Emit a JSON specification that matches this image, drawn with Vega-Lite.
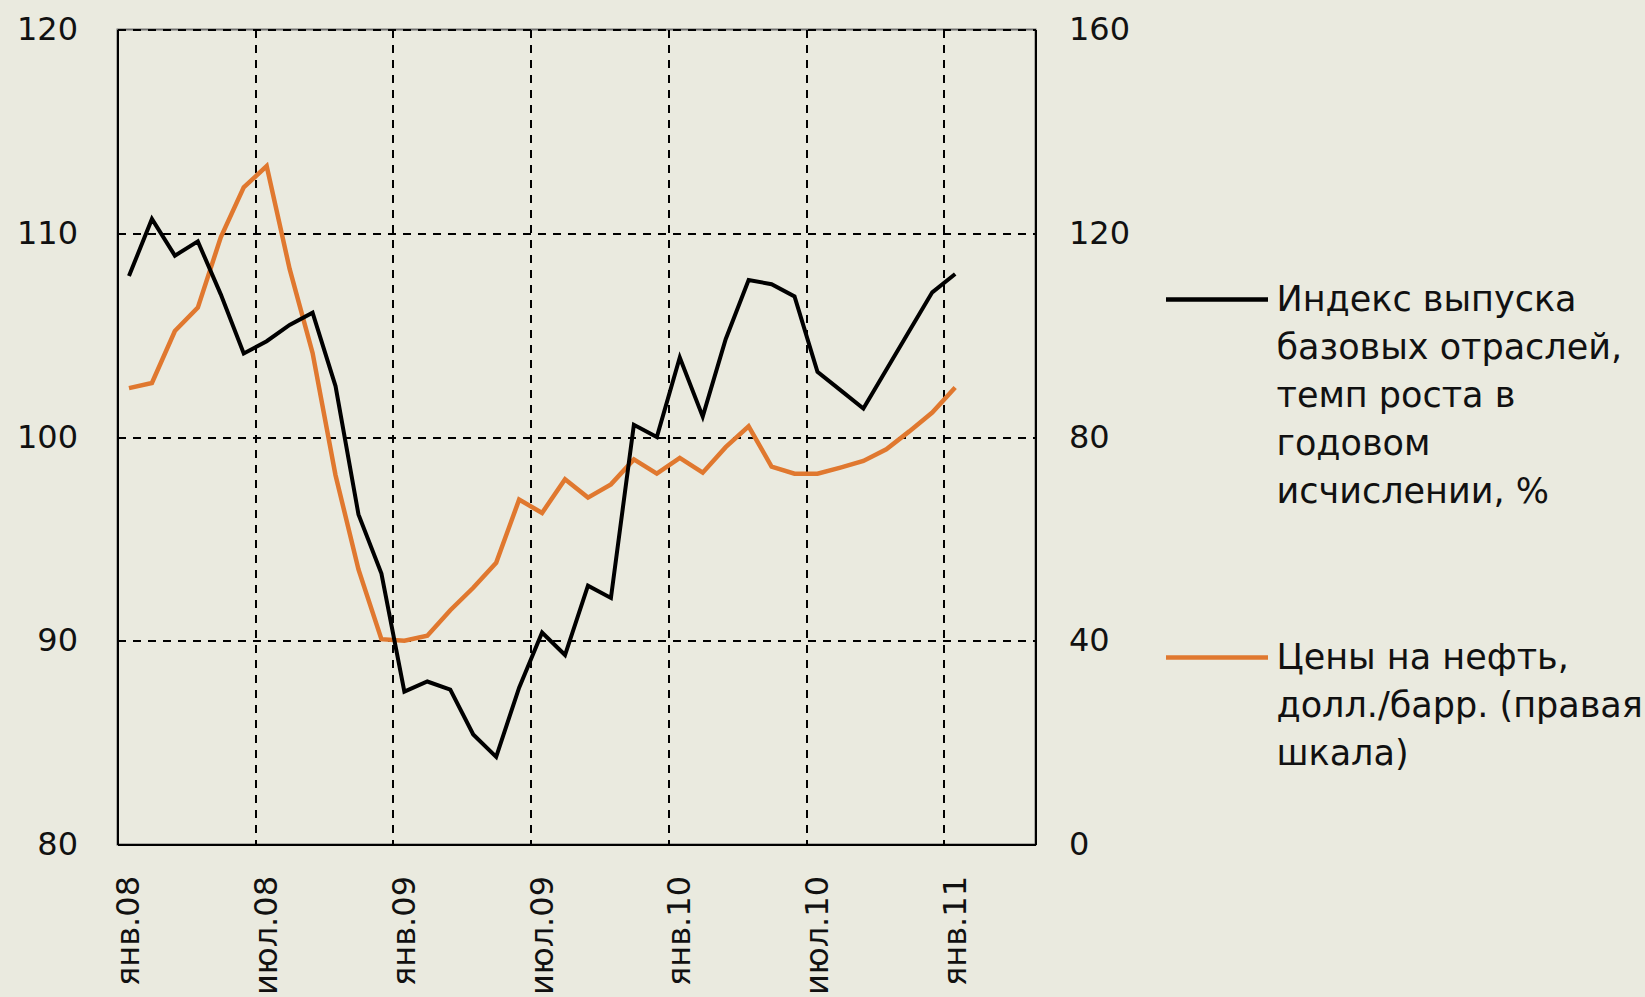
{
  "$schema": "https://vega.github.io/schema/vega-lite/v6.json",
  "width": 918,
  "height": 815,
  "autosize": "none",
  "padding": {"left": 117.5, "top": 29.5, "right": 609.5, "bottom": 152.5},
  "background": "#EAEADF",
  "config": {
    "font": "DejaVu Sans",
    "view": {"stroke": "#707070", "strokeWidth": 2},
    "style": {"guide-label": {"lineHeight": 48}},
    "axis": {
      "labelFont": "DejaVu Sans",
      "labelFontSize": 32,
      "labelColor": "#111111",
      "domainColor": "#000000",
      "domainWidth": 2,
      "ticks": false,
      "title": null
    },
    "legend": {
      "orient": "none",
      "legendX": 1046,
      "legendY": 216.5,
      "title": null,
      "padding": 0,
      "symbolType": "stroke",
      "symbolSize": 10404,
      "symbolStrokeWidth": 4.5,
      "labelFont": "DejaVu Sans",
      "labelFontSize": 35,
      "labelColor": "#111111",
      "labelLimit": 0,
      "labelOffset": 6,
      "labelBaseline": "middle",
      "rowPadding": 94
    }
  },
  "data": {
    "values": [
      {"m": "2008-01", "idx": 107.9, "oil": 89.6},
      {"m": "2008-02", "idx": 110.7, "oil": 90.6},
      {"m": "2008-03", "idx": 108.9, "oil": 100.8},
      {"m": "2008-04", "idx": 109.6, "oil": 105.4},
      {"m": "2008-05", "idx": 107.0, "oil": 119.2},
      {"m": "2008-06", "idx": 104.1, "oil": 129.0},
      {"m": "2008-07", "idx": 104.7, "oil": 133.2},
      {"m": "2008-08", "idx": 105.5, "oil": 113.0},
      {"m": "2008-09", "idx": 106.1, "oil": 96.5},
      {"m": "2008-10", "idx": 102.5, "oil": 72.5},
      {"m": "2008-11", "idx": 96.2, "oil": 54.0},
      {"m": "2008-12", "idx": 93.3, "oil": 40.3},
      {"m": "2009-01", "idx": 87.5, "oil": 40.0},
      {"m": "2009-02", "idx": 88.0, "oil": 41.0},
      {"m": "2009-03", "idx": 87.6, "oil": 46.0},
      {"m": "2009-04", "idx": 85.4, "oil": 50.4},
      {"m": "2009-05", "idx": 84.3, "oil": 55.3},
      {"m": "2009-06", "idx": 87.7, "oil": 67.7},
      {"m": "2009-07", "idx": 90.4, "oil": 65.1},
      {"m": "2009-08", "idx": 89.3, "oil": 71.7},
      {"m": "2009-09", "idx": 92.7, "oil": 68.1},
      {"m": "2009-10", "idx": 92.1, "oil": 70.7},
      {"m": "2009-11", "idx": 100.6, "oil": 75.6},
      {"m": "2009-12", "idx": 100.0, "oil": 72.8},
      {"m": "2010-01", "idx": 103.9, "oil": 75.9},
      {"m": "2010-02", "idx": 101.0, "oil": 73.0},
      {"m": "2010-03", "idx": 104.8, "oil": 78.0},
      {"m": "2010-04", "idx": 107.7, "oil": 82.1},
      {"m": "2010-05", "idx": 107.5, "oil": 74.2},
      {"m": "2010-06", "idx": 106.9, "oil": 72.8},
      {"m": "2010-07", "idx": 103.2, "oil": 72.8},
      {"m": "2010-08", "idx": 102.3, "oil": 74.0},
      {"m": "2010-09", "idx": 101.4, "oil": 75.3},
      {"m": "2010-10", "idx": 103.3, "oil": 77.6},
      {"m": "2010-11", "idx": 105.2, "oil": 81.1},
      {"m": "2010-12", "idx": 107.1, "oil": 84.8},
      {"m": "2011-01", "idx": 108.0, "oil": 89.7}
    ]
  },
  "encoding": {
    "x": {
      "field": "m",
      "type": "ordinal",
      "sort": null,
      "scale": {
        "type": "point",
        "padding": 0.5,
        "domain": ["2008-01","2008-02","2008-03","2008-04","2008-05","2008-06","2008-07","2008-08","2008-09","2008-10","2008-11","2008-12",
                   "2009-01","2009-02","2009-03","2009-04","2009-05","2009-06","2009-07","2009-08","2009-09","2009-10","2009-11","2009-12",
                   "2010-01","2010-02","2010-03","2010-04","2010-05","2010-06","2010-07","2010-08","2010-09","2010-10","2010-11","2010-12",
                   "2011-01","2011-02","2011-03","2011-04"]
      },
      "axis": {
        "values": ["2008-01","2008-07","2009-01","2009-07","2010-01","2010-07","2011-01"],
        "labelExpr": "(substring(datum.value,5,7)=='01'?'янв.':'июл.')+substring(datum.value,2,4)",
        "labelAngle": -90,
        "labelAlign": "right",
        "labelBaseline": "middle",
        "labelPadding": 31,
        "labelOffset": 11.475,
        "tickOffset": -11.475,
        "grid": true,
        "gridColor": "#000000",
        "gridWidth": 2,
        "gridDash": [8, 7],
        "gridOpacity": 1,
        "labelFontSize": 32
      }
    }
  },
  "layer": [
    {
      "mark": {"type": "line", "strokeWidth": 4.5, "strokeJoin": "miter"},
      "encoding": {
        "y": {
          "field": "oil",
          "type": "quantitative",
          "scale": {"domain": [0, 160], "nice": false, "zero": false},
          "axis": {
            "orient": "right",
            "values": [0, 40, 80, 120, 160],
            "grid": false,
            "labelPadding": 33,
            "labelAlign": "left",
            "labelBaseline": "middle"
          }
        },
        "color": {
          "datum": "Цены на нефть,|долл./барр. (правая|шкала)",
          "type": "nominal",
          "legend": {"labelExpr": "split(datum.label, '|')"}
        }
      }
    },
    {
      "mark": {"type": "line", "strokeWidth": 4, "strokeJoin": "miter"},
      "encoding": {
        "y": {
          "field": "idx",
          "type": "quantitative",
          "scale": {"domain": [80, 120], "nice": false, "zero": false},
          "axis": {
            "orient": "left",
            "values": [80, 90, 100, 110, 120],
            "grid": true,
            "gridColor": "#000000",
            "gridWidth": 2,
            "gridDash": [8, 7],
            "gridOpacity": 1,
            "labelPadding": 40,
            "labelAlign": "right",
            "labelBaseline": "middle"
          }
        },
        "color": {
          "datum": "Индекс выпуска|базовых отраслей,|темп роста в|годовом|исчислении, %",
          "type": "nominal",
          "scale": {
            "domain": ["Индекс выпуска|базовых отраслей,|темп роста в|годовом|исчислении, %", "Цены на нефть,|долл./барр. (правая|шкала)"],
            "range": ["#000000", "#E0782F"]
          },
          "legend": {"labelExpr": "split(datum.label, '|')"}
        }
      }
    }
  ],
  "resolve": {"scale": {"y": "independent"}}
}
